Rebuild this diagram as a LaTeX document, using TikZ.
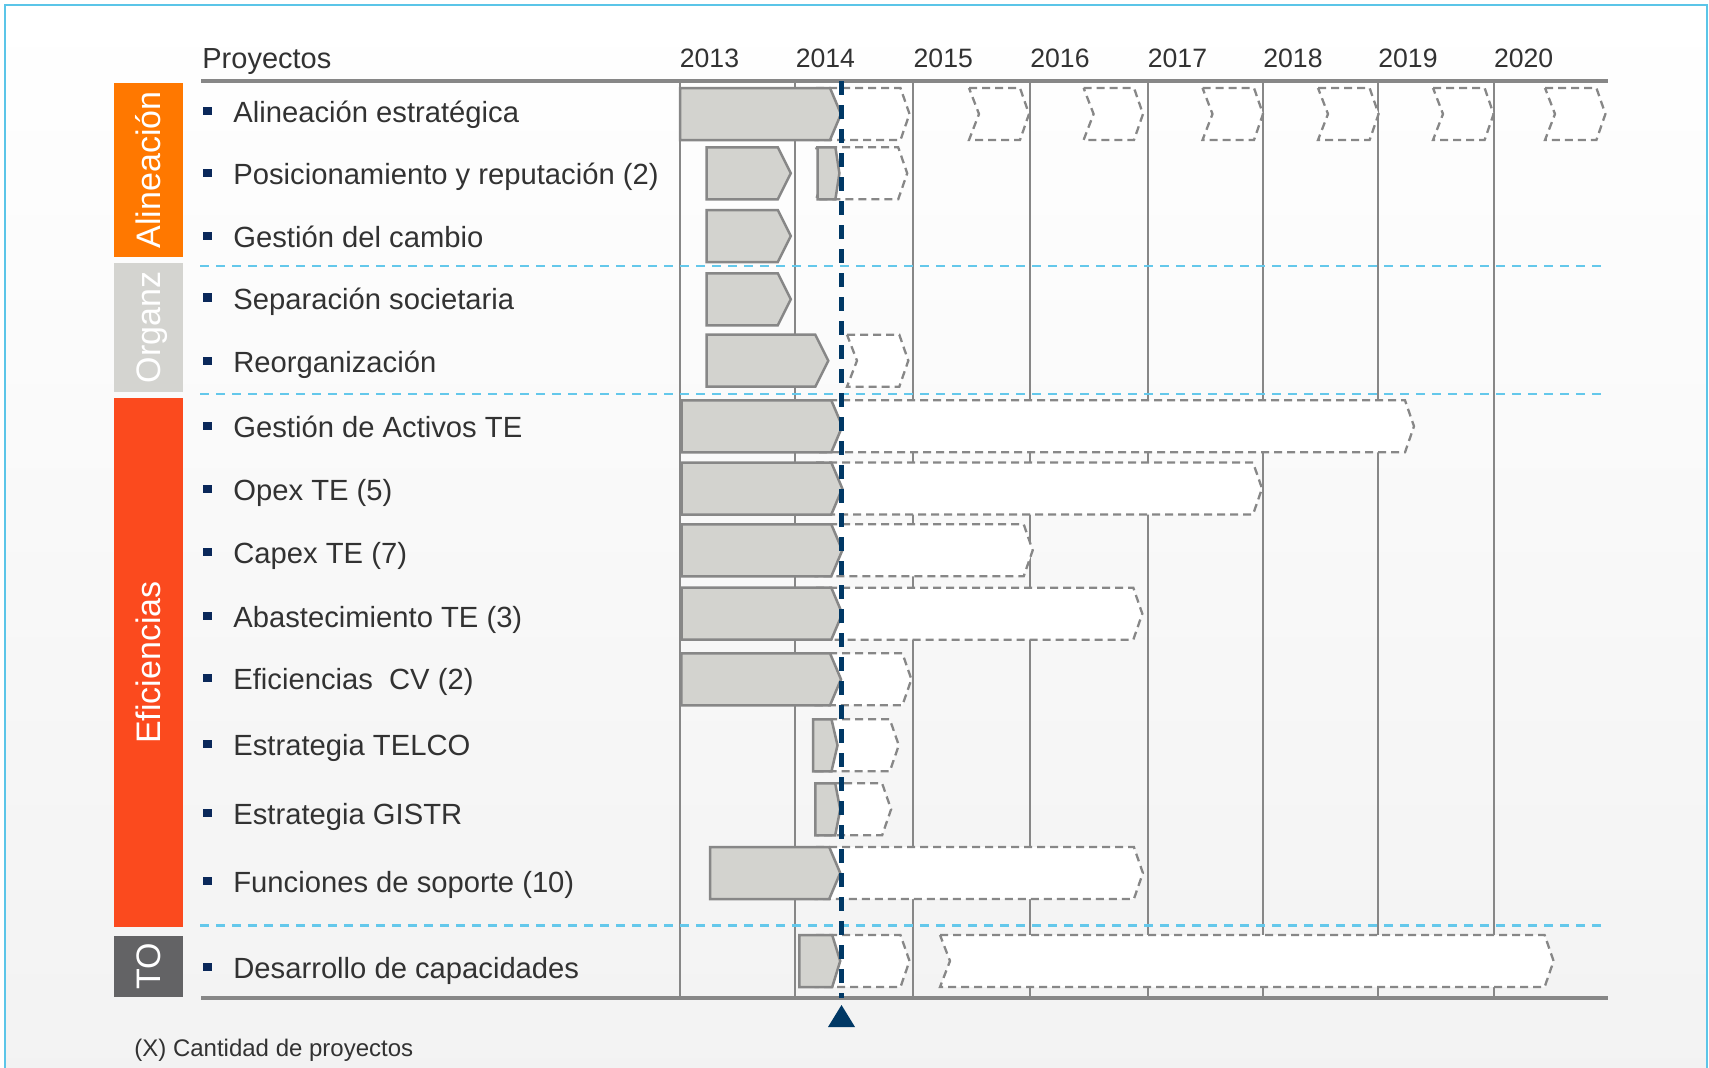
\documentclass[tikz,border=0pt]{standalone}
\usepackage{fontspec}
\setmainfont{Liberation Sans}
\usetikzlibrary{positioning}
\definecolor{frameblue}{RGB}{91, 197, 232}
\definecolor{sepblue}{RGB}{100, 200, 235}
\definecolor{todayblue}{RGB}{0, 56, 101}
\definecolor{bulletblue}{RGB}{10, 40, 90}
\definecolor{linegray}{RGB}{135, 135, 135}
\definecolor{barfill}{RGB}{211, 211, 207}
\definecolor{txtgray}{RGB}{50, 50, 50}
\definecolor{alinorange}{RGB}{255, 120, 0}
\definecolor{orgzgray}{RGB}{212, 212, 208}
\definecolor{eficred}{RGB}{251, 74, 30}
\definecolor{todark}{RGB}{99, 99, 101}
\definecolor{bgbottom}{RGB}{242, 242, 242}

% done part of a project: left, tip, row, tip depth
\newcommand{\donebar}[4]{\draw[donebar] (#1,#3-26) -- (#2-#4,#3-26) -- (#2,#3) -- (#2-#4,#3+26) -- (#1,#3+26) -- cycle;}
% planned part: left, tip, row
\newcommand{\planbar}[3]{\draw[planbar] (#1,#3-26) -- (#2-9,#3-26) -- (#2,#3) -- (#2-9,#3+26) -- (#1,#3+26) -- (#1+10,#3) -- cycle;}

\begin{document}
\begin{tikzpicture}[
    x=0.5pt, y=-0.5pt,
    rowlabel/.style={anchor=base west, inner sep=0pt, text=txtgray, font=\fontsize{14.6}{17}\selectfont},
    yearlabel/.style={anchor=base west, inner sep=0pt, text=txtgray, font=\fontsize{13.3}{16}\selectfont},
    bulletsq/.style={fill=bulletblue, inner sep=0pt, minimum size=4.1pt},
    sidebar/.style={rotate=90, inner sep=0pt, minimum height=34.5pt, text=white, text height=12.2pt, text depth=0pt, font=\fontsize{17}{20}\selectfont},
    yearline/.style={linegray, line width=1pt},
    axisline/.style={linegray, line width=2pt},
    sepline/.style={sepblue, line width=1.2pt, dash pattern=on 4.5pt off 3.5pt},
    donebar/.style={draw=linegray, fill=barfill, line width=1.25pt},
    planbar/.style={draw=linegray, fill=white, line width=1.15pt, dash pattern=on 4pt off 2.5pt},
    todayline/.style={todayblue, line width=2.3pt, dash pattern=on 7pt off 5pt}
]
\useasboundingbox (0,0) rectangle (1709,1067);

% Frame
\draw[frameblue, line width=1pt, top color=white, bottom color=bgbottom] (4.5,4.5) rectangle (1706.5,1100);

% Years
\foreach \lx/\yr in {679.5/2013, 795.4/2014, 913.3/2015, 1030/2016, 1147.5/2017, 1263/2018, 1378/2019, 1493.6/2020} {
  \draw[yearline] (\lx,81) -- (\lx,998);
  \node[yearlabel] (y\yr) at (\lx,67.8) {\yr};
}
\node[rowlabel, font=\fontsize{14.5}{17}\selectfont] (proy) at (202,68.7) {Proyectos};

% Group separators
\foreach \sy in {265.7, 393.7, 925.4}
  \draw[sepline] (200,\sy) -- (1608,\sy);
\draw[axisline] (201,81) -- (1608,81);
\draw[axisline] (201,998) -- (1608,998);

% Planned
\foreach \pl/\pt/\py in {816/909.5/114, 969/1029/114, 1083.6/1143/114, 1202.5/1263/114, 1318/1378.6/114, 1433/1493.6/114, 1545/1605.4/114,
    816/907.2/173.3, 847/908.3/360.7, 816/1414/426.3, 816/1262/488.5, 816/1032.7/550.3, 816/1142.3/613.7, 816/911.4/679.3,
    816/898.8/745.3, 818/891.1/809.3, 816/1142.9/873, 816/909.5/961, 940/1553.6/961}
  \planbar{\pl}{\pt}{\py};

% Done
\foreach \dl/\dt/\dy/\dd in {680/841/114/11, 706.6/790.8/173.3/13, 817.6/839.4/173.3/4, 706.6/790.8/236/13, 706.6/790.8/299.3/13,
    706.6/828.3/360.7/13, 681.6/842.3/426.3/11, 681.6/842.3/488.5/11, 681.6/842.3/550.3/11, 681.6/842.3/613.7/11,
    681.4/841/679.3/11, 813/837.5/745.3/6, 815.3/840.2/809.3/5, 710/840.2/873/11, 799.3/840.2/961/8}
  \donebar{\dl}{\dt}{\dy}{\dd};

% Today
\coordinate (nowtop) at (841.5,81);
\coordinate (nowbot) at (841.5,998);
\draw[todayline] (nowtop) -- (nowbot);
\fill[todayblue] (841.5,1005) -- (855,1027) -- (828,1027) -- cycle;

% Projects
\foreach \i/\ty/\txt in {1/111.7/Alineación estratégica, 2/174/Posicionamiento y reputación (2), 3/236.7/Gestión del cambio,
    4/298.5/Separación societaria, 5/361.7/Reorganización, 6/427/Gestión de Activos TE, 7/489.6/Opex TE (5),
    8/552.9/Capex TE (7), 9/616.8/Abastecimiento TE (3), 10/679.3/Eficiencias\ \ CV (2), 11/745/Estrategia TELCO,
    12/814/Estrategia GISTR, 13/881.8/Funciones de soporte (10), 14/968/Desarrollo de capacidades} {
  \node[bulletsq] (bul\i) at (207.5,\ty-1) {};
  \node[rowlabel] (row\i) at (233,\ty+10.5) {\txt};
}

% Groups
\node[sidebar, fill=alinorange, minimum width=87pt] (alin) at (148.5,170) {Alineación};
\node[sidebar, fill=orgzgray, minimum width=64.5pt] (orgz) at (148.5,327.5) {Organz};
\node[sidebar, fill=eficred, minimum width=264.5pt] (efic) at (148.5,662.5) {Eficiencias};
\node[sidebar, fill=todark, minimum width=30.5pt] (tope) at (148.5,966.5) {TO};

% Note
\node[rowlabel, font=\fontsize{12}{14}\selectfont] (note) at (134,1056.6) {(X) Cantidad de proyectos};

\end{tikzpicture}
\end{document}
